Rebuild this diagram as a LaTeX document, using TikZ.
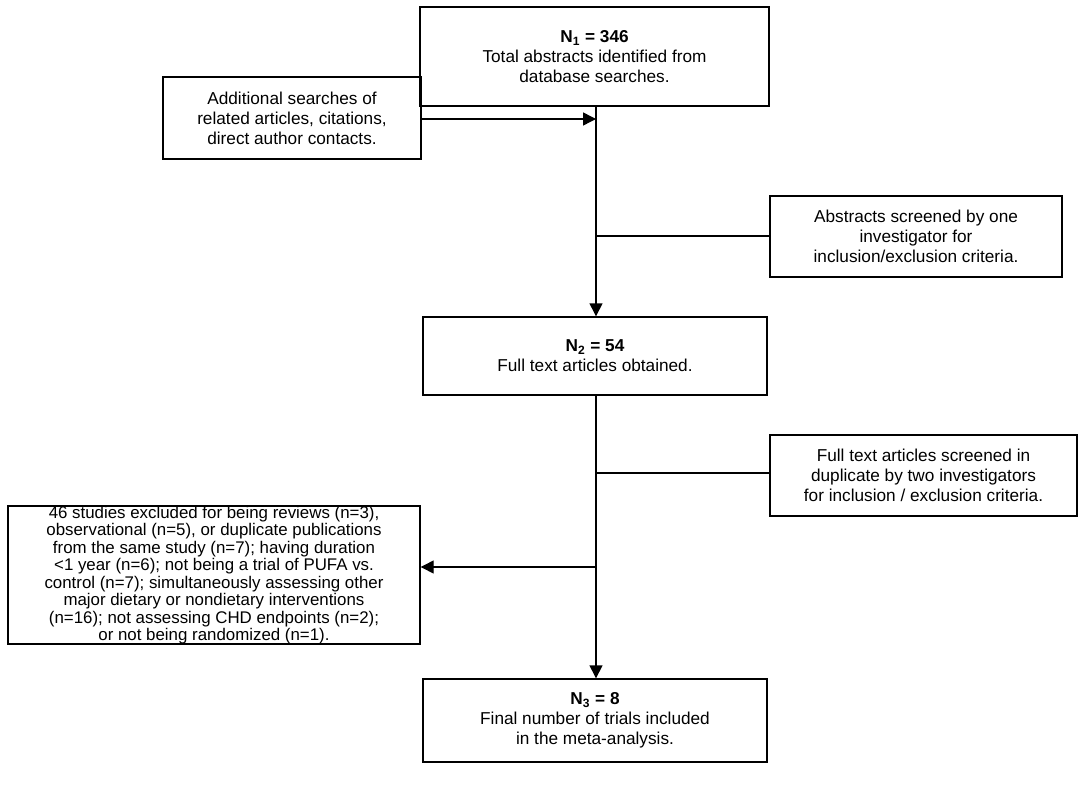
\documentclass[tikz,border=0pt]{standalone}
\usepackage{fontspec}
\setmainfont{Liberation Sans}
\usetikzlibrary{arrows.meta}
\tikzset{
	flowbox/.style = {draw, thick, align=center, inner sep=0pt, font=\fontsize{9.8}{11.4}\selectfont},
	flowline/.style = {thick},
	flowarrow/.style = {thick, -{Triangle[length=2.6mm, width=2.6mm]}}
}
\begin{document}
\begin{tikzpicture}[x=0.02cm, y=-0.02cm]
		\useasboundingbox (0, 0) rectangle (1087, 800);
		\node[flowbox, minimum width=349*0.02cm, minimum height=99*0.02cm] (n1) at (594.5, 56.5) {\textbf{N\textsubscript{1} = 346}\\Total abstracts identified from\\database searches.};
		\node[flowbox, minimum width=258*0.02cm, minimum height=82*0.02cm] (extra) at (292, 118) {Additional searches of\\related articles, citations,\\direct author contacts.};
		\node[flowbox, minimum width=292*0.02cm, minimum height=81*0.02cm] (screen1) at (916, 236.5) {Abstracts screened by one\\investigator for\\inclusion/exclusion criteria.};
		\node[flowbox, minimum width=344*0.02cm, minimum height=78*0.02cm] (n2) at (595, 356) {\textbf{N\textsubscript{2} = 54}\\Full text articles obtained.};
		\node[flowbox, minimum width=307*0.02cm, minimum height=81*0.02cm] (screen2) at (923.5, 475.5) {Full text articles screened in\\duplicate by two investigators\\for inclusion / exclusion criteria.};
		\node[flowbox, minimum width=412*0.02cm, minimum height=132*0.02cm, font=\fontsize{9.6}{8.7}\selectfont] (excl) at (214, 575) {46 studies excluded for being reviews (n=3),\\observational (n=5), or duplicate publications\\from the same study (n=7); having duration\\<1 year (n=6); not being a trial of PUFA vs.\\control (n=7); simultaneously assessing other\\major dietary or nondietary interventions\\(n=16); not assessing CHD endpoints (n=2);\\or not being randomized (n=1).};
		\node[flowbox, minimum width=344*0.02cm, minimum height=83*0.02cm] (n3) at (595, 720.5) {\textbf{N\textsubscript{3} = 8}\\Final number of trials included\\in the meta-analysis.};
		% connectors
		\coordinate (j1) at (596, 119);
		\coordinate (j2) at (596, 236);
		\coordinate (j3) at (596, 473);
		\coordinate (j4) at (596, 567);
		\draw[flowarrow] (n1.south -| j1) -- (n2.north -| j1);
		\draw[flowarrow] (extra.east |- j1) -- (j1);
		\draw[flowline] (j2) -- (screen1.west |- j2);
		\draw[flowarrow] (n2.south -| j3) -- (n3.north -| j3);
		\draw[flowline] (j3) -- (screen2.west |- j3);
		\draw[flowarrow] (j4) -- (excl.east |- j4);
\end{tikzpicture}
\end{document}
